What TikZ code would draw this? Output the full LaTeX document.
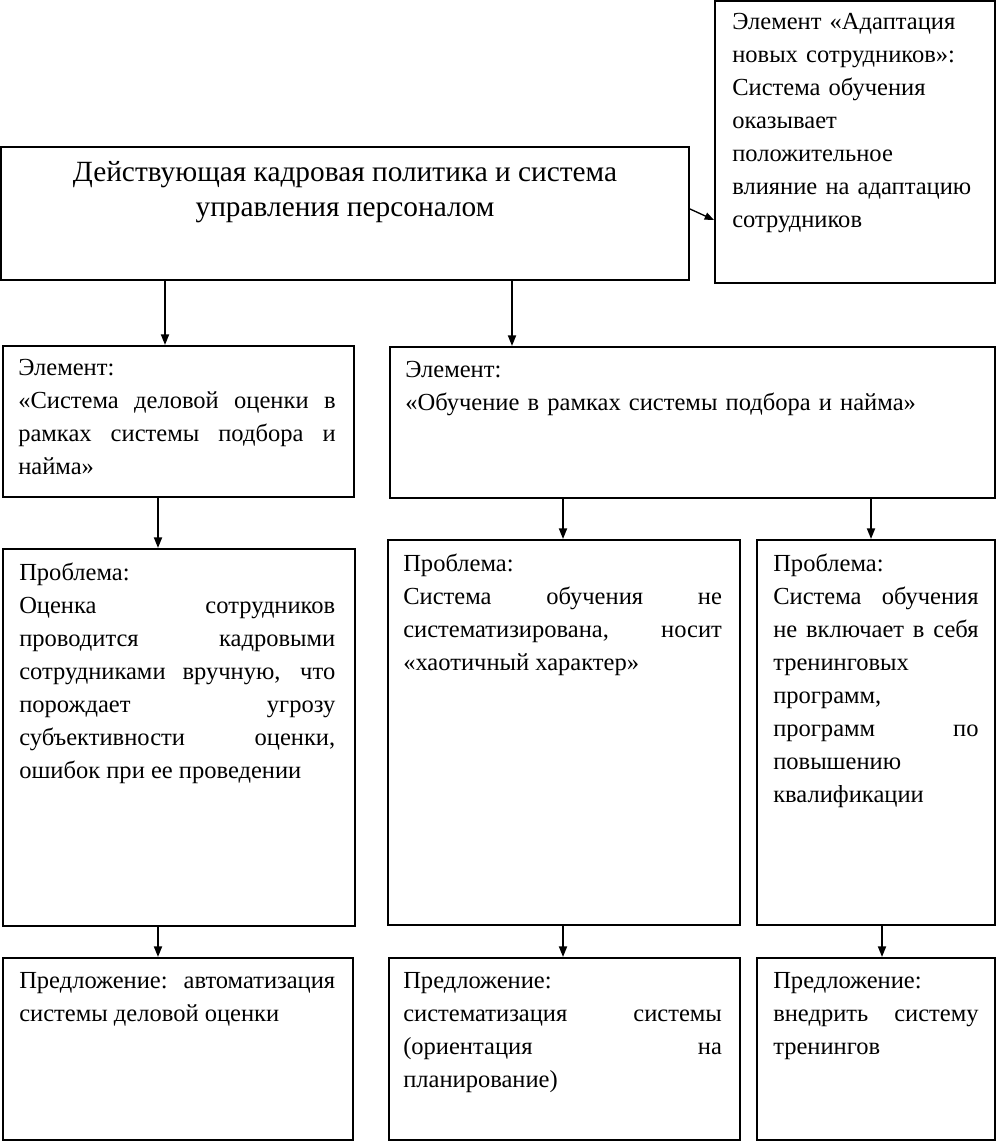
\documentclass[tikz,border=0pt]{standalone}
\usepackage{fontspec}
\setmainfont{Liberation Serif}
\usetikzlibrary{arrows.meta,fit}
\hyphenpenalty=10000
\exhyphenpenalty=10000
\hbadness=10000
\hfuzz=20pt
\begin{document}
\begin{tikzpicture}[x=0.75pt,y=-0.75pt,
  box/.style={draw,line width=1.5pt,inner sep=0pt},
  txt/.style={anchor=north west,inner sep=0pt,align=justify,font=\fontsize{18.4}{24.75}\selectfont},
  arr/.style={line width=1.4pt,-{Triangle[length=8pt,width=6pt]}},
  sarr/.style={line width=1pt,-{Triangle[length=7pt,width=5.5pt]}}
]
\fill[white] (0,0) rectangle (997,1144);
\useasboundingbox (0,0) rectangle (997,1144);

% box corners
\coordinate (topA) at (1,147);   \coordinate (topB) at (689,280);
\coordinate (adA) at (715,1);    \coordinate (adB) at (995,283);
\coordinate (e1A) at (3,346);    \coordinate (e1B) at (354,497);
\coordinate (e2A) at (390,347);  \coordinate (e2B) at (995,498);
\coordinate (p1A) at (3,549);    \coordinate (p1B) at (355,926);
\coordinate (p2A) at (388,540);  \coordinate (p2B) at (740,925);
\coordinate (p3A) at (757,540);  \coordinate (p3B) at (995,925);
\coordinate (s1A) at (3,958);    \coordinate (s1B) at (353,1140);
\coordinate (s2A) at (389,958);  \coordinate (s2B) at (740,1140);
\coordinate (s3A) at (757,958);  \coordinate (s3B) at (995,1140);

% boxes
\node[box,fit=(topA) (topB)] (top) {};
\node[box,fit=(adA) (adB)] (adap) {};
\node[box,fit=(e1A) (e1B)] (e1) {};
\node[box,fit=(e2A) (e2B)] (e2) {};
\node[box,fit=(p1A) (p1B)] (p1) {};
\node[box,fit=(p2A) (p2B)] (p2) {};
\node[box,fit=(p3A) (p3B)] (p3) {};
\node[box,fit=(s1A) (s1B)] (s1) {};
\node[box,fit=(s2A) (s2B)] (s2) {};
\node[box,fit=(s3A) (s3B)] (s3) {};

% texts
\node[anchor=north,inner sep=0pt,align=center,font=\fontsize{22}{26.25}\selectfont] (toptxt) at ([shift={(0,15)}]top.north)
  {Действующая кадровая политика и система\\ управления персоналом};
\node[txt,align=left,text width=195pt] (adaptxt) at ([shift={(18,13)}]adap.north west)
  {Элемент «Адаптация\\ новых сотрудников»:\\ Система обучения\\ оказывает\\ положительное\\ влияние на адаптацию\\ сотрудников};
\node[txt,text width=238pt] (e1txt) at ([shift={(16,14)}]e1.north west)
  {Элемент:\\ «Система деловой оценки в\linebreak рамках системы подбора и\linebreak найма»};
\node[txt,align=left,text width=430pt] (e2txt) at ([shift={(16,15)}]e2.north west)
  {Элемент:\\ «Обучение в рамках системы подбора и найма»};
\node[txt,text width=237pt] (p1txt) at ([shift={(17,15)}]p1.north west)
  {Проблема:\\ Оценка сотрудников\linebreak проводится кадровыми\linebreak сотрудниками вручную, что\linebreak порождает угрозу\linebreak субъективности оценки,\linebreak ошибок при ее проведении};
\node[txt,text width=239pt] (p2txt) at ([shift={(16,15)}]p2.north west)
  {Проблема:\\ Система обучения не\linebreak систематизирована, носит\linebreak «хаотичный характер»};
\node[txt,text width=154pt] (p3txt) at ([shift={(17,15)}]p3.north west)
  {Проблема:\\ Система обучения\linebreak не включает в себя\linebreak тренинговых\\ программ,\\ программ по\linebreak повышению\\ квалификации};
\node[txt,text width=237pt] (s1txt) at ([shift={(17,15)}]s1.north west)
  {Предложение: автоматизация\linebreak системы деловой оценки};
\node[txt,text width=239pt] (s2txt) at ([shift={(15,15)}]s2.north west)
  {Предложение:\\ систематизация системы\linebreak (ориентация на\linebreak планирование)};
\node[txt,text width=154pt] (s3txt) at ([shift={(17,15)}]s3.north west)
  {Предложение:\\ внедрить систему\linebreak тренингов};

% connector x positions
\coordinate (xa) at (165,0);
\coordinate (xb) at (512,0);
\coordinate (xc) at (158,0);
\coordinate (xd) at (563,0);
\coordinate (xe) at (871,0);
\coordinate (xf) at (882,0);
\coordinate (ya) at (0,209);
\coordinate (yb) at (0,220);

% connectors
\draw[sarr] (top.east |- ya) -- (adap.west |- yb);
\draw[arr] (top.south -| xa) -- (e1.north -| xa);
\draw[arr] (top.south -| xb) -- (e2.north -| xb);
\draw[arr] (e1.south -| xc) -- (p1.north -| xc);
\draw[arr] (e2.south -| xd) -- (p2.north -| xd);
\draw[arr] (e2.south -| xe) -- (p3.north -| xe);
\draw[arr] (p1.south -| xc) -- (s1.north -| xc);
\draw[arr] (p2.south -| xd) -- (s2.north -| xd);
\draw[arr] (p3.south -| xf) -- (s3.north -| xf);
\end{tikzpicture}
\end{document}
